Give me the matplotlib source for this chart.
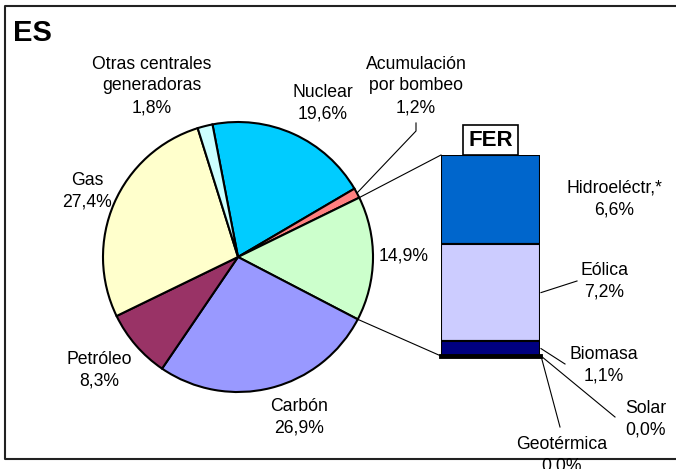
import numpy as np
import matplotlib
matplotlib.use("Agg")
import matplotlib.pyplot as plt

plt.rcParams['font.family'] = ['Liberation Sans', 'DejaVu Sans']

# datos del grafico
sectores = ["Nuclear", "Acumulación\npor bombeo", "FER", "Carbón", "Petróleo", "Gas",
            "Otras centrales\ngeneradoras"]
valores = [19.6, 1.2, 14.9, 26.9, 8.3, 27.4, 1.8]
colores = ["#00CCFF", "#FF8080", "#CCFFCC", "#9999FF", "#993366", "#FFFFCC", "#CCFFFF"]

fer_nombres = ["Hidroeléctr.*", "Eólica", "Biomasa", "Solar", "Geotérmica"]
fer_valores = [6.6, 7.2, 1.1, 0.0, 0.0]
fer_colores = ["#0066CC", "#CCCCFF", "#000080", "#000000", "#000000"]

W, H = 676, 469
fig = plt.figure(figsize=(W / 100, H / 100), dpi=100)

# ejes de pixeles para textos y lineas
ax0 = fig.add_axes([0, 0, 1, 1], zorder=3)
ax0.set_xlim(0, W)
ax0.set_ylim(H, 0)
ax0.axis("off")
ax0.patch.set_alpha(0)

# pastel
cx, cy, r = 238, 257, 135
axp = fig.add_axes([(cx - r) / W, (H - cy - r) / H, 2 * r / W, 2 * r / H])
start = 100.9
axp.pie(valores, colors=colores, startangle=start, counterclock=False,
        wedgeprops=dict(edgecolor="black", linewidth=1.5))
axp.set_xlim(-1, 1)
axp.set_ylim(-1, 1)

# barra FER
bx0, bx1, by0, by1 = 441, 540, 155, 356
axb = fig.add_axes([bx0 / W, (H - by1) / H, (bx1 - bx0) / W, (by1 - by0) / H])
pos = sum(fer_valores)
for v, c in zip(fer_valores, fer_colores):
    axb.bar(0, v, width=1, bottom=pos - v, color=c, edgecolor="black", linewidth=1.5)
    pos -= v
axb.set_xlim(-0.5, 0.5)
axb.set_ylim(0, sum(fer_valores))
axb.axis("off")
# borde inferior (solar + geotermica ~0)
axb.axhline(0, color="black", lw=3.5, clip_on=False)

# conversion a pixeles
def a_pix(ax, x, y):
    d = ax.transData.transform((x, y))
    return ax0.transData.inverted().transform(d)

# angulos del sector FER
cum = np.cumsum([0] + valores)
ang = start - 360 * cum / sum(valores)
i = sectores.index("FER")
a1, a2 = np.radians(ang[i]), np.radians(ang[i + 1])
p1 = a_pix(axp, np.cos(a1), np.sin(a1))
p2 = a_pix(axp, np.cos(a2), np.sin(a2))
t_top = a_pix(axb, -0.5, sum(fer_valores))
t_bot = a_pix(axb, -0.5, 0)
ax0.plot([p1[0], t_top[0]], [p1[1], t_top[1]], color="black", lw=0.8)
ax0.plot([p2[0], t_bot[0]], [p2[1], t_bot[1]], color="black", lw=0.8)

# linea a acumulacion
j = sectores.index("Acumulación\npor bombeo")
am = np.radians((ang[j] + ang[j + 1]) / 2)
pa = a_pix(axp, np.cos(am), np.sin(am))
ax0.plot([416, 416, pa[0]], [123, 131, pa[1]], color="black", lw=0.8)

def etiqueta(n, v):
    return f"{n}\n{v:.1f}%".replace(".", ",")

fs = 12.7
ls = 1.36
pie_pos = {
    "Nuclear": (323, 103),
    "Acumulación\npor bombeo": (416, 86),
    "Carbón": (299, 417),
    "Petróleo": (99, 370),
    "Gas": (87, 191),
    "Otras centrales\ngeneradoras": (152, 86),
}
for n, v in zip(sectores, valores):
    if n == "FER":
        ax0.text(404, 256, f"{v:.1f}%".replace(".", ","), ha="center", va="center", fontsize=fs)
        continue
    x, y = pie_pos[n]
    ax0.text(x, y, etiqueta(n, v), ha="center", va="center", fontsize=fs, linespacing=ls)

# etiquetas FER
fer_pos = [(614, 199), (604, 281), (604, 365), (646, 419), (562, 455)]
fer_linea = [None, (577, 281), (565, 364), (615, 417), (560, 427)]
ybar = [a_pix(axb, 0.5, sum(fer_valores) - sum(fer_valores[:k]) - fer_valores[k] / 2)[1]
        for k in range(len(fer_valores))]
for k, (n, v) in enumerate(zip(fer_nombres, fer_valores)):
    x, y = fer_pos[k]
    ax0.text(x, y, etiqueta(n, v), ha="center", va="center", fontsize=fs,
             linespacing=ls, clip_on=False)
    if fer_linea[k] is not None:
        xb = a_pix(axb, 0.5, 0)[0] + 1
        yb = min(ybar[k], a_pix(axb, 0.5, 0)[1])
        ax0.plot([xb, fer_linea[k][0]], [yb, fer_linea[k][1]], color="black", lw=0.8)

ax0.text(490.5, 140, "FER", ha="center", va="center", fontsize=16, fontweight="bold",
         bbox=dict(boxstyle="square,pad=0.22", facecolor="white", edgecolor="black", linewidth=1.2))

ax0.text(13, 33, "ES", ha="left", va="center", fontsize=21, fontweight="bold")

# marco
ax0.plot([W + 5, 5, 5, W + 5], [6, 6, 459, 459], color="#222222", lw=1.5, clip_on=False)

fig.savefig("out.png", dpi=100)
